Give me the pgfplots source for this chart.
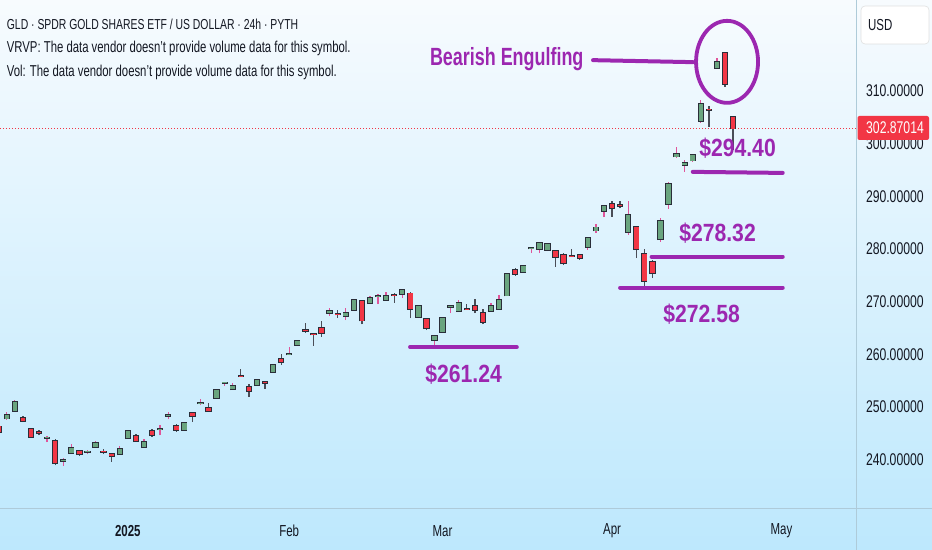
\documentclass[border=0pt]{standalone}
\usepackage{pgfplots}
\pgfplotsset{compat=1.18}
\usepackage{pgfplotstable}
\usepackage{fontspec}
\setmainfont{Liberation Sans}[FakeStretch=0.72]
\newfontfamily\pricefont{Liberation Sans}[FakeStretch=0.85]

\definecolor{tvgreen}{HTML}{6AA57F}
\definecolor{tvred}{HTML}{F23645}
\definecolor{tvborder}{HTML}{2A2E39}
\definecolor{wickup}{HTML}{E0559A}
\definecolor{wickdn}{HTML}{4A4D57}
\definecolor{annpurple}{HTML}{9C27B0}
\definecolor{tvtext}{HTML}{131722}
\definecolor{bgtop}{HTML}{F7FBFE}
\definecolor{bgbot}{HTML}{BDE8FD}
\definecolor{sepline}{HTML}{AECBD9}

% up (green) candles: index, open, high, low, close
\pgfplotstableread{
x O H L C
1 247.8 249.0 247.6 248.5
2 249.3 251.3 249.1 250.9
6 244.1 244.55 243.3 244.2
8 239.75 240.25 238.8 239.85
9 241.3 242.95 241.2 242.15
11 241.45 241.8 241.0 241.55
12 242.35 243.5 242.25 243.1
15 241.0 242.6 240.9 242.05
16 244.05 245.6 244.0 245.5
18 242.35 243.85 242.25 243.3
20 245.8 246.5 244.6 245.9
21 248.35 249.05 247.7 248.45
23 245.6 247.2 245.5 247.0
25 250.7 251.45 250.35 250.8
27 251.75 253.35 251.6 253.2
28 254.55 254.8 254.0 254.65
29 253.35 254.6 253.3 254.0
32 254.15 255.3 254.05 255.1
34 256.7 258.15 256.55 257.95
36 259.95 261.45 259.8 260.05
37 261.8 262.7 261.7 262.55
41 267.9 268.75 267.35 268.3
43 267.3 268.75 266.5 267.8
44 268.45 270.5 268.3 270.35
46 269.7 271.1 269.6 270.65
47 271.05 271.45 269.55 271.15
48 270.35 271.9 270.25 271.1
50 271.45 272.4 270.65 272.2
52 267.15 269.3 266.85 269.1
54 262.7 263.7 261.65 263.5
55 264.3 267.1 264.1 266.85
56 269.0 269.4 267.8 269.1
57 268.25 270.35 268.15 269.7
61 268.25 269.7 268.1 269.2
62 268.6 271.25 268.5 270.35
63 271.15 275.35 271.05 275.2
65 275.6 277.0 275.45 276.8
66 280.1 280.25 279.2 280.2
67 280.0 281.4 279.2 281.1
68 279.85 281.05 279.6 280.9
73 280.45 282.2 279.85 282.05
74 283.5 284.75 283.0 284.1
75 287.25 288.45 286.05 288.25
78 283.3 289.1 282.7 286.5
82 281.85 285.85 281.4 285.4
83 288.55 292.8 287.55 292.35
84 297.55 299.45 297.25 298.05
85 295.95 296.95 294.7 296.35
86 296.8 298.05 296.6 297.9
87 304.35 308.35 304.0 307.5
89 314.35 316.25 314.15 315.6
}\upc

% down (red) candles: index, open, high, low, close
\pgfplotstableread{
x O H L C
0 246.3 246.6 245.0 245.3
3 247.9 248.2 247.1 247.4
4 245.8 246.0 244.3 244.35
5 245.3 245.6 244.6 245.0
7 243.6 243.85 238.9 239.3
10 241.65 241.8 240.7 241.0
13 241.55 241.95 241.05 241.45
14 241.1 241.2 239.6 240.75
17 244.5 244.9 243.4 243.5
19 245.5 245.75 244.35 244.6
22 246.4 246.75 245.3 245.6
24 248.9 249.0 247.2 248.3
26 249.75 250.8 249.1 249.2
30 255.95 257.15 255.8 255.85
31 253.85 254.3 251.95 253.0
33 254.8 254.9 253.5 254.6
35 259.05 260.0 257.95 258.6
38 264.55 266.0 264.1 264.45
39 263.85 263.9 261.65 263.75
40 265.05 266.4 263.35 264.0
42 267.65 268.35 266.9 267.55
45 270.2 270.35 265.7 266.4
49 271.3 271.6 269.8 271.2
51 271.55 271.8 266.85 268.6
53 266.65 266.85 264.6 264.95
58 268.65 269.55 268.5 268.55
59 269.2 270.5 267.8 268.45
60 267.8 268.55 265.75 266.1
64 276.0 276.35 274.9 275.3
69 279.7 279.85 276.65 278.55
70 278.9 279.2 276.95 277.3
71 278.75 280.0 278.45 278.65
72 278.9 279.1 278.0 278.25
76 288.55 289.15 286.15 287.75
77 288.3 289.05 287.7 288.2
79 284.25 284.4 278.25 280.0
80 279.0 279.95 272.85 273.95
81 277.6 277.9 274.45 275.4
88 306.5 307.2 303.25 306.35
90 317.3 317.5 310.75 311.35
91 305.0 305.1 298.8 302.87
}\dnc

\pgfplotsset{candle/.style={draw=none, mark=none, forget plot,
  error bars/.cd, y dir=plus, y explicit, error mark=none}}

\begin{document}
\begin{tikzpicture}[x=1bp,y=1bp]
\useasboundingbox (0,0) rectangle (932,550);
\shade[top color=bgtop, bottom color=bgbot] (0,0) rectangle (932,550);
\begin{axis}[
  at={(0bp,41.2bp)}, anchor=south west,
  width=856.8bp, height=508.8bp, scale only axis,
  xmin=0.16, xmax=106.33, ymin=230.65, ymax=327.3,
  axis line style={draw=none}, major tick length=0pt,
  xtick={16,36,55,76,97},
  xticklabels={\textbf{2025},Feb,Mar,Apr,May},
  xticklabel style={anchor=center, yshift=-22.3bp, inner sep=0pt,
    font=\fontsize{16}{16}\selectfont, text=tvtext},
  ytick={240,250,...,310}, yticklabel pos=right,
  yticklabel style={anchor=west, xshift=9bp, inner sep=0pt,
    font=\fontsize{17}{17}\selectfont, text=tvtext},
  /pgf/number format/.cd, fixed, fixed zerofill, precision=5,
  assume math mode=true, 1000 sep={},
]
% current price line
\draw[tvred, line width=0.9bp, dash pattern=on 1.2bp off 1.8bp]
  (axis cs:0.16,302.87) -- (axis cs:106.33,302.87);

% wicks
\addplot[candle, error bar style={line width=1.3bp, draw=wickup}]
  table[x=x, y=L, y error expr=\thisrow{H}-\thisrow{L}] {\upc};
\addplot[candle, error bar style={line width=1.3bp, draw=wickdn}]
  table[x=x, y=L, y error expr=\thisrow{H}-\thisrow{L}] {\dnc};
% body borders
\addplot[candle, error bar style={line width=6.3bp, draw=tvborder}]
  table[x=x, y expr=\thisrow{O}-0.17, y error expr=\thisrow{C}-\thisrow{O}+0.34] {\upc};
\addplot[candle, error bar style={line width=6.3bp, draw=tvborder}]
  table[x=x, y expr=\thisrow{C}-0.17, y error expr=\thisrow{O}-\thisrow{C}+0.34] {\dnc};
% body fills
\addplot[candle, error bar style={line width=4.5bp, draw=tvgreen}]
  table[x=x, y=O, y error expr=\thisrow{C}-\thisrow{O}] {\upc};
\addplot[candle, error bar style={line width=4.5bp, draw=tvred}]
  table[x=x, y=C, y error expr=\thisrow{O}-\thisrow{C}] {\dnc};

% annotations
\draw[annpurple, line width=4bp, line cap=round] (axis cs:73.64,315.87) -- (axis cs:86.03,315.49);
\draw[annpurple, line width=3.8bp] (axis cs:90.25,315.55) ellipse [x radius=31bp, y radius=41bp];
\draw[annpurple, line width=4bp, line cap=round] (axis cs:86.0,294.65) -- (axis cs:97.15,294.45);
\draw[annpurple, line width=4bp, line cap=round] (axis cs:80.9,278.55) -- (axis cs:97.15,278.55);
\draw[annpurple, line width=4bp, line cap=round] (axis cs:77.0,272.66) -- (axis cs:97.15,272.66);
\draw[annpurple, line width=4bp, line cap=round] (axis cs:50.97,261.36) -- (axis cs:64.2,261.36);

\node[anchor=base, inner sep=0pt, text=annpurple, font=\fontsize{25}{25}\selectfont\bfseries]
  at (axis cs:62.95,314.79) {Bearish Engulfing};
\begin{scope}[every node/.style={anchor=base, inner sep=0pt, text=annpurple,
    font=\pricefont\fontsize{25}{25}\selectfont\bfseries}]
\node at (axis cs:91.55,297.5) {\$294.40};
\node at (axis cs:89.07,281.44) {\$278.32};
\node at (axis cs:87.09,265.95) {\$272.58};
\node at (axis cs:57.6,254.55) {\$261.24};
\end{scope}
\end{axis}

% separators
\draw[sepline, line width=1bp] (856.8,0) -- (856.8,550);
\draw[sepline, line width=1bp] (0,41.5) -- (932,41.5);

% last price label
\fill[tvred, rounded corners=2bp] (857.5,410) rectangle (929,434);
\node[anchor=west, inner sep=0pt, text=white, font=\fontsize{17}{17}\selectfont] at (866,422) {302.87014};

% currency box
\filldraw[fill=white, draw=white!88!black, line width=0.6bp, rounded corners=4bp] (861,506) rectangle (929,544);
\node[anchor=west, inner sep=0pt, text=tvtext, font=\fontsize{16}{16}\selectfont] at (868,525) {USD};

% header
\node[anchor=base west, inner sep=0pt, text=tvtext, font=\fontsize{14.5}{14.5}\selectfont]
  at (6.7,520) {GLD · SPDR GOLD SHARES ETF / US DOLLAR · 24h · PYTH};
\begin{scope}[every node/.style={anchor=base west, inner sep=0pt, text=tvtext,
    font=\fontsize{15.8}{15.8}\selectfont}]
\node at (6.7,497.5) {VRVP: The data vendor doesn't provide volume data for this symbol.};
\node at (6.7,473.5) {Vol: The data vendor doesn't provide volume data for this symbol.};
\end{scope}
\end{tikzpicture}
\end{document}
